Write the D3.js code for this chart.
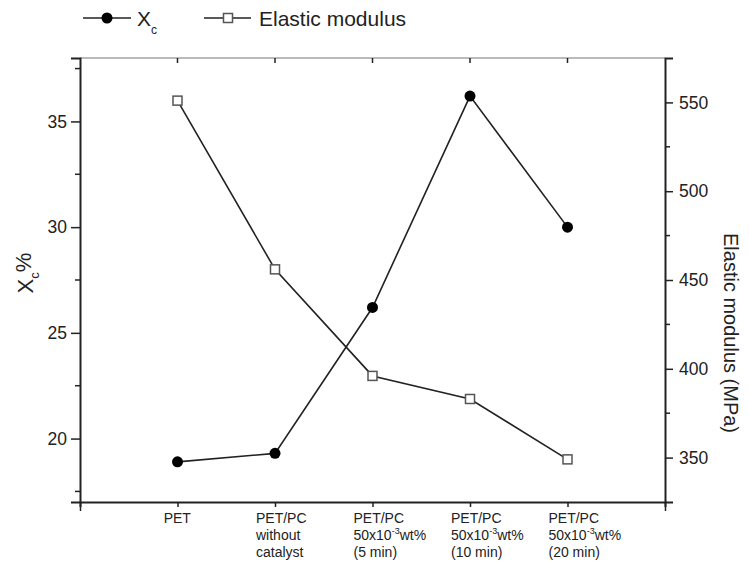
<!DOCTYPE html>
<html>
<head>
<meta charset="utf-8">
<script src="https://cdn.jsdelivr.net/npm/d3@7"></script>
<style>
  body { margin: 0; background: #fff; }
  svg { font-family: "Liberation Sans", Arial, sans-serif; }
</style>
</head>
<body>
<div class="chart"></div>
<script>
// categories (one entry per line of the tick label)
var categorias = [
    [["PET"]],
    [["PET/PC"], ["without"], ["catalyst"]],
    [["PET/PC"], ["50x10", "-3", "wt%"], ["(5 min)"]],
    [["PET/PC"], ["50x10", "-3", "wt%"], ["(10 min)"]],
    [["PET/PC"], ["50x10", "-3", "wt%"], ["(20 min)"]]
];
var xcValores = [18.9, 19.3, 26.2, 36.2, 30.0];
var moduloValores = [551, 456, 396, 383, 349];
var ticksIzq = [20, 25, 30, 35];
var ticksIzqMenores = [17.5, 22.5, 27.5, 32.5, 37.5];
var ticksDer = [350, 400, 450, 500, 550];
var ticksDerMenores = [375, 425, 475, 525];

var width = 749, height = 563;
var margin = { top: 58, right: 84, bottom: 61, left: 80 };

var svg = d3.select('.chart')
    .append('svg')
    .attr("width", width)
    .attr("height", height);

var xRange = d3.scaleLinear().domain([-1, 5]).range([margin.left, width - margin.right]);
var yIzq = d3.scaleLinear().domain([17, 38]).range([height - margin.bottom, margin.top]);
var yDer = d3.scaleLinear().domain([325, 575]).range([height - margin.bottom, margin.top]);

var x0 = margin.left, x1 = width - margin.right;
var y0 = height - margin.bottom, y1 = margin.top;

// top frame line with small inward ticks
svg.append("line")
    .attr("x1", x0).attr("x2", x1).attr("y1", y1).attr("y2", y1)
    .attr("stroke", "#777").attr("stroke-width", 1.2);
svg.selectAll(".topTick")
    .data(d3.range(0, 5))
    .enter().append("line")
    .attr("x1", function(d) { return xRange(d); })
    .attr("x2", function(d) { return xRange(d); })
    .attr("y1", y1).attr("y2", y1 + 5)
    .attr("stroke", "#222").attr("stroke-width", 1.5);

// left axis
var yAxisIzq = d3.axisLeft(yIzq).tickValues(ticksIzq).tickSize(9).tickPadding(4).tickFormat(d3.format("d"));
var gIzq = svg.append("g")
    .attr("class", "yAxis")
    .attr("transform", "translate(" + x0 + ",0)")
    .call(yAxisIzq);
gIzq.selectAll(".minor")
    .data(ticksIzqMenores)
    .enter().append("line")
    .attr("x1", 0).attr("x2", -5)
    .attr("y1", function(d) { return yIzq(d); })
    .attr("y2", function(d) { return yIzq(d); })
    .attr("stroke", "#222").attr("stroke-width", 1.5);

// right axis
var yAxisDer = d3.axisRight(yDer).tickValues(ticksDer).tickSize(8).tickPadding(6).tickFormat(d3.format("d"));
var gDer = svg.append("g")
    .attr("class", "yAxis")
    .attr("transform", "translate(" + x1 + ",0)")
    .call(yAxisDer);
gDer.selectAll(".minor")
    .data(ticksDerMenores)
    .enter().append("line")
    .attr("x1", 0).attr("x2", 5)
    .attr("y1", function(d) { return yDer(d); })
    .attr("y2", function(d) { return yDer(d); })
    .attr("stroke", "#222").attr("stroke-width", 1.5);

// bottom axis
var xAxis = d3.axisBottom(xRange).tickValues(d3.range(-1, 6)).tickSize(5).tickFormat("");
var gX = svg.append("g")
    .attr("class", "xAxis")
    .attr("transform", "translate(0," + y0 + ")")
    .call(xAxis);
gX.selectAll(".tick line")
    .attr("y2", function(d) { return (d < 0 || d > 4) ? 9 : 5; });

svg.selectAll(".domain").attr("stroke", "#222").attr("stroke-width", 2);
svg.selectAll(".tick line").attr("stroke", "#222").attr("stroke-width", 1.5);
svg.selectAll(".yAxis .tick text").attr("font-size", 17.5).attr("fill", "#222")
    .attr("font-family", "Liberation Sans, Arial, sans-serif");

// category labels
categorias.forEach(function(lineas, i) {
    var t = svg.append("text")
        .attr("font-size", 14)
        .attr("fill", "#222")
        .attr("text-anchor", "start");
    lineas.forEach(function(partes, j) {
        var ty = y0 + 21 + j * 17;
        var ln = t.append("tspan").attr("class", "ln").attr("x", 0).attr("y", ty);
        ln.text(partes[0]);
        if (partes.length > 1) {
            ln.append("tspan").attr("font-size", 9).attr("dy", -6).text(partes[1]);
            ln.append("tspan").attr("dy", 6).text(partes[2]);
        }
    });
    var bb = t.node().getBBox();
    var desplaz = lineas.length > 1 ? 19 : bb.width / 2;
    t.attr("transform", "translate(" + (xRange(i) - desplaz) + ",0)");
});

// lines
var lineaXc = d3.line()
    .x(function(d, i) { return xRange(i); })
    .y(function(d) { return yIzq(d); });
var lineaMod = d3.line()
    .x(function(d, i) { return xRange(i); })
    .y(function(d) { return yDer(d); });

svg.append("path").datum(moduloValores)
    .attr("d", lineaMod).attr("fill", "none")
    .attr("stroke", "#222").attr("stroke-width", 1.6);
svg.append("path").datum(xcValores)
    .attr("d", lineaXc).attr("fill", "none")
    .attr("stroke", "#222").attr("stroke-width", 1.6);

svg.selectAll(".cuadro")
    .data(moduloValores)
    .enter().append("rect")
    .attr("x", function(d, i) { return xRange(i) - 4.5; })
    .attr("y", function(d) { return yDer(d) - 4.5; })
    .attr("width", 9).attr("height", 9)
    .attr("fill", "#fff").attr("stroke", "#555").attr("stroke-width", 1.5);

svg.selectAll(".punto")
    .data(xcValores)
    .enter().append("circle")
    .attr("cx", function(d, i) { return xRange(i); })
    .attr("cy", function(d) { return yIzq(d); })
    .attr("r", 5.5)
    .attr("fill", "#000");

// axis titles
var tIzq = svg.append("text")
    .attr("transform", "translate(33," + 273 + ") rotate(-90)")
    .attr("text-anchor", "middle")
    .attr("font-size", 22).attr("fill", "#222");
tIzq.append("tspan").text("X");
tIzq.append("tspan").attr("font-size", 13).attr("dy", 6).text("c");
tIzq.append("tspan").attr("dy", -8).text("%");

svg.append("text")
    .attr("transform", "translate(724," + 333 + ") rotate(90)")
    .attr("text-anchor", "middle")
    .attr("font-size", 20).attr("fill", "#222")
    .text("Elastic modulus (MPa)");

// legend
var leyenda = svg.append("g").attr("class", "leyenda");
leyenda.append("line").attr("x1", 83).attr("x2", 131).attr("y1", 18).attr("y2", 18)
    .attr("stroke", "#222").attr("stroke-width", 1.6);
leyenda.append("circle").attr("cx", 107).attr("cy", 18).attr("r", 5.5).attr("fill", "#000");
var lt = leyenda.append("text").attr("x", 137).attr("y", 26).attr("font-size", 21).attr("fill", "#222");
lt.append("tspan").text("X");
lt.append("tspan").attr("font-size", 12).attr("dy", 8).text("c");

leyenda.append("line").attr("x1", 204).attr("x2", 251).attr("y1", 18).attr("y2", 18)
    .attr("stroke", "#222").attr("stroke-width", 1.6);
leyenda.append("rect").attr("x", 223.5).attr("y", 13.5).attr("width", 9).attr("height", 9)
    .attr("fill", "#fff").attr("stroke", "#555").attr("stroke-width", 1.5);
leyenda.append("text").attr("x", 259).attr("y", 26).attr("font-size", 21).attr("fill", "#222")
    .text("Elastic modulus");
</script>
</body>
</html>
